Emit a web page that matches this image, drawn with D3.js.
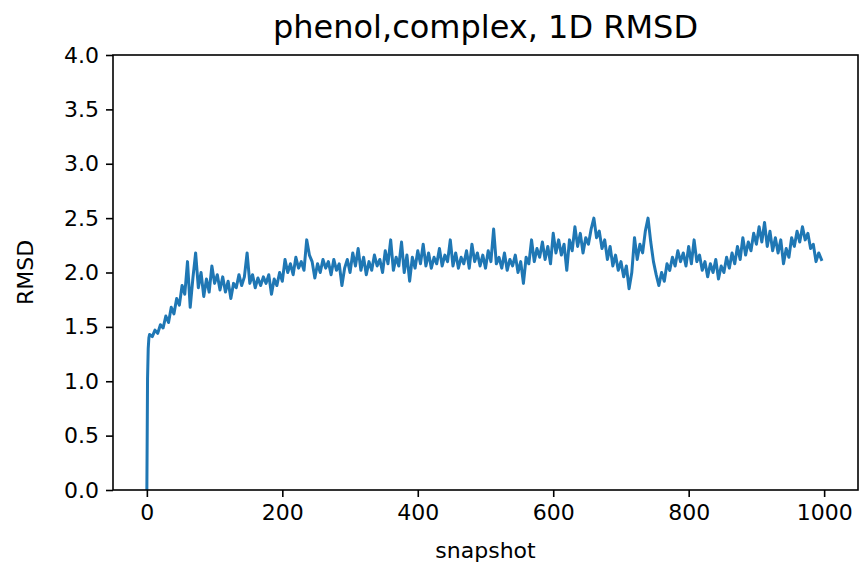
<!DOCTYPE html>
<html>
<head>
<meta charset="utf-8">
<script src="https://cdn.jsdelivr.net/npm/d3@7/dist/d3.min.js"></script>
<style>
  body { margin: 0; background: #fff; }
  text { font-family: "DejaVu Sans", sans-serif; fill: #000; }
</style>
</head>
<body>
<div id="chart"></div>
<script>
// snapshot index -> RMSD
var snapshots = [0, 1, 2, 3, 4, 8, 12, 16, 20, 24, 28, 32, 36, 40, 44, 48,
  52, 56, 60, 64, 68, 72, 76, 80, 84, 88,
  92, 96, 100, 104, 108, 112, 116, 120, 124, 128,
  132, 136, 140, 144, 148, 152, 156, 160, 164, 168,
  172, 176, 180, 184, 188, 192, 196, 200, 204, 208,
  212, 216, 220, 224, 228, 232, 236, 240, 244, 248,
  252, 256, 260, 264, 268, 272, 276, 280, 284, 288,
  292, 296, 300, 304, 308, 312, 316, 320, 324, 328,
  332, 336, 340, 344, 348, 352, 356, 360, 364, 368,
  372, 376, 380, 384, 388, 392, 396, 400, 404, 408,
  412, 416, 420, 424, 428, 432, 436, 440, 444, 448,
  452, 456, 460, 464, 468, 472, 476, 480, 484, 488,
  492, 496, 500, 504, 508, 512, 516, 520, 524, 528,
  532, 536, 540, 544, 548, 552, 556, 560, 564, 568,
  572, 576, 580, 584, 588, 592, 596, 600, 604, 608,
  612, 616, 620, 624, 628, 632, 636, 640, 644, 648,
  652, 656, 660, 664, 668, 672, 676, 680, 684, 688,
  692, 696, 700, 704, 708, 712, 716, 720, 724, 728,
  732, 736, 740, 744, 748, 752, 756, 760, 764, 768,
  772, 776, 780, 784, 788, 792, 796, 800, 804, 808,
  812, 816, 820, 824, 828, 832, 836, 840, 844, 848,
  852, 856, 860, 864, 868, 872, 876, 880, 884, 888,
  892, 896, 900, 904, 908, 912, 916, 920, 924, 928,
  932, 936, 940, 944, 948, 952, 956, 960, 964, 968,
  972, 976, 980, 984, 988, 992, 996];

var rmsd = [0.00, 1.02, 1.30, 1.40, 1.43, 1.41, 1.47, 1.44, 1.52, 1.49, 1.60, 1.54, 1.68, 1.62, 1.76, 1.70,
  1.88, 1.80, 2.10, 1.68, 1.95, 2.18, 1.86, 2.00, 1.78, 1.94,
  1.82, 2.06, 1.90, 1.98, 1.84, 1.96, 1.82, 1.92, 1.76, 1.90,
  1.86, 1.98, 1.88, 1.96, 2.18, 1.90, 1.98, 1.86, 1.95, 1.88,
  1.96, 1.90, 1.98, 1.80, 1.94, 1.88, 2.00, 1.92, 2.12, 2.00,
  2.08, 1.98, 2.14, 2.04, 2.10, 2.02, 2.30, 2.16, 2.10, 1.95,
  2.08, 2.00, 2.12, 2.04, 2.10, 1.98, 2.12, 2.02, 2.08, 1.88,
  2.04, 2.12, 2.00, 2.18, 2.06, 2.22, 2.02, 2.14, 1.98, 2.10,
  2.02, 2.16, 2.06, 2.12, 2.00, 2.20, 2.08, 2.30, 2.02, 2.14,
  2.06, 2.28, 2.00, 2.16, 1.92, 2.14, 2.04, 2.20, 2.08, 2.26,
  2.06, 2.18, 2.04, 2.14, 2.08, 2.22, 2.06, 2.16, 2.10, 2.30,
  2.06, 2.18, 2.04, 2.14, 2.08, 2.20, 2.04, 2.26, 2.10, 2.18,
  2.06, 2.16, 2.04, 2.20, 2.10, 2.40, 2.08, 2.14, 2.04, 2.18,
  2.02, 2.12, 2.06, 2.16, 2.00, 2.10, 1.90, 2.14, 2.08, 2.30,
  2.10, 2.22, 2.14, 2.28, 2.12, 2.24, 2.08, 2.36, 2.18, 2.30,
  2.16, 2.26, 2.02, 2.30, 2.20, 2.42, 2.24, 2.36, 2.18, 2.32,
  2.26, 2.40, 2.50, 2.32, 2.38, 2.22, 2.30, 2.12, 2.24, 2.06,
  2.16, 2.02, 2.10, 1.96, 2.06, 1.85, 2.00, 2.32, 2.12, 2.26,
  2.18, 2.38, 2.50, 2.28, 2.10, 1.98, 1.88, 2.00, 1.92, 2.08,
  2.02, 2.14, 2.06, 2.20, 2.10, 2.18, 2.06, 2.24, 2.08, 2.30,
  2.10, 2.16, 2.02, 2.10, 1.96, 2.08, 2.00, 2.12, 1.94, 2.06,
  2.00, 2.14, 2.04, 2.18, 2.08, 2.24, 2.12, 2.32, 2.16, 2.28,
  2.20, 2.36, 2.26, 2.42, 2.28, 2.46, 2.24, 2.38, 2.20, 2.32,
  2.18, 2.30, 2.08, 2.22, 2.14, 2.32, 2.24, 2.38, 2.28, 2.42,
  2.30, 2.36, 2.22, 2.26, 2.10, 2.18, 2.12];

var xTicks = [0, 200, 400, 600, 800, 1000];
var yTicks = [0.0, 0.5, 1.0, 1.5, 2.0, 2.5, 3.0, 3.5, 4.0];

var width = 862, height = 575;
var m = {top: 55, right: 4, bottom: 85, left: 113};
var iw = width - m.left - m.right, ih = height - m.top - m.bottom;

var svg = d3.select("#chart").append("svg")
  .attr("width", width)
  .attr("height", height);

var g = svg.append("g")
  .attr("transform", "translate(" + m.left + "," + m.top + ")");

var x = d3.scaleLinear().domain([-50, 1050]).range([0, iw]);
var y = d3.scaleLinear().domain([0, 4]).range([ih, 0]);

// clip so the line stays inside the axes box
g.append("clipPath").attr("id", "clip")
  .append("rect").attr("width", iw).attr("height", ih);

var line = d3.line()
  .x(function (d, i) { return x(snapshots[i]); })
  .y(function (d) { return y(d); });

g.append("path")
  .datum(rmsd)
  .attr("clip-path", "url(#clip)")
  .attr("fill", "none")
  .attr("stroke", "#1f77b4")
  .attr("stroke-width", 3)
  .attr("stroke-linejoin", "round")
  .attr("stroke-linecap", "square")
  .attr("d", line);

// axes
var xAxis = g.append("g")
  .attr("transform", "translate(0," + ih + ")")
  .call(d3.axisBottom(x).tickValues(xTicks).tickSize(7).tickPadding(7).tickFormat(d3.format("d")));

var yAxis = g.append("g")
  .call(d3.axisLeft(y).tickValues(yTicks).tickSize(7).tickPadding(7).tickFormat(d3.format(".1f")));

[xAxis, yAxis].forEach(function (a) {
  a.select(".domain").remove();
  a.selectAll("line").attr("stroke", "#000").attr("stroke-width", 1.6);
  a.selectAll("text").attr("font-size", 22).attr("font-family", "DejaVu Sans").attr("fill", "#000");
});
xAxis.selectAll("text").attr("dy", "0.71em");

// frame
g.append("rect")
  .attr("width", iw)
  .attr("height", ih)
  .attr("fill", "none")
  .attr("stroke", "#000")
  .attr("stroke-width", 1.6);

// labels
svg.append("text")
  .attr("x", m.left + iw / 2)
  .attr("y", 38)
  .attr("text-anchor", "middle")
  .attr("font-size", 32)
  .text("phenol,complex, 1D RMSD");

svg.append("text")
  .attr("x", m.left + iw / 2)
  .attr("y", 558)
  .attr("text-anchor", "middle")
  .attr("font-size", 22)
  .text("snapshot");

svg.append("text")
  .attr("transform", "translate(33," + (m.top + ih / 2) + ") rotate(-90)")
  .attr("text-anchor", "middle")
  .attr("font-size", 22)
  .text("RMSD");
</script>
</body>
</html>
